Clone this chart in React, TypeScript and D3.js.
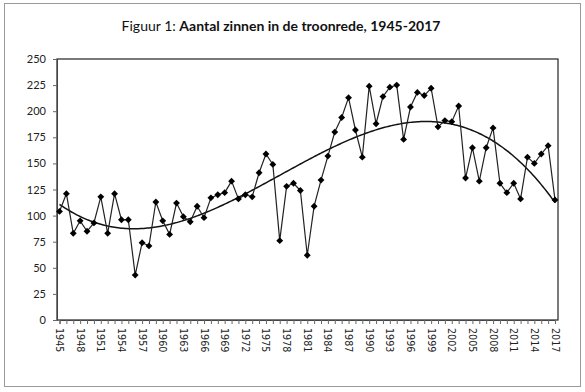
import React, { useEffect, useRef } from "react";
import * as d3 from "d3";

const years: number[] = d3.range(1945, 2018);

const sentences: number[] = [
  104, 121, 83, 95, 85, 93, 118, 83, 121, 96,
  96, 43, 74, 71, 113, 95, 82, 112, 99, 94,
  109, 98, 117, 120, 122, 133, 116, 120, 118, 141,
  159, 149, 76, 128, 131, 124, 62, 109, 134, 157,
  180, 194, 213, 182, 156, 224, 188, 214, 223, 225,
  173, 204, 218, 215, 222, 185, 191, 190, 205, 136,
  165, 133, 165, 184, 131, 122, 131, 116, 156, 150,
  159, 167, 115,
];

const yTicks: number[] = [0, 25, 50, 75, 100, 125, 150, 175, 200, 225, 250];
const labelYears: number[] = d3.range(1945, 2018, 3);

const W = 585;
const H = 392;
const margin = { left: 57, right: 27, top: 59, bottom: 72 };

// least squares polynomial (Excel style trendline)
function polyFit(xs: number[], ys: number[], order: number) {
  const n = order + 1;
  const A: number[][] = [];
  for (let r = 0; r < n; r++) {
    const row: number[] = [];
    for (let c = 0; c < n; c++) row.push(d3.sum(xs, x => Math.pow(x, r + c)));
    row.push(d3.sum(xs, (x, i) => ys[i] * Math.pow(x, r)));
    A.push(row);
  }
  for (let i = 0; i < n; i++) {
    let p = i;
    for (let k = i + 1; k < n; k++) if (Math.abs(A[k][i]) > Math.abs(A[p][i])) p = k;
    [A[i], A[p]] = [A[p], A[i]];
    for (let k = i + 1; k < n; k++) {
      const f = A[k][i] / A[i][i];
      for (let c = i; c <= n; c++) A[k][c] -= f * A[i][c];
    }
  }
  const coef = new Array(n).fill(0);
  for (let i = n - 1; i >= 0; i--) {
    let s = A[i][n];
    for (let c = i + 1; c < n; c++) s -= A[i][c] * coef[c];
    coef[i] = s / A[i][i];
  }
  return (x: number) => coef.reduce((acc, b, i) => acc + b * Math.pow(x, i), 0);
}

const App = () => {
  const ref = useRef<SVGSVGElement>(null);

  useEffect(() => {
    const svg = d3.select(ref.current);
    svg.selectAll("*").remove();

    const x0 = margin.left, x1 = W - margin.right;
    const y0 = H - margin.bottom, y1 = margin.top;

    const x = d3.scaleLinear().domain([1945, 2017]).range([x0 + 2.5, x1 - 3]);
    const y = d3.scaleLinear().domain([0, 250]).range([y0, y1]);

    // outer frame
    svg.append("rect")
      .attr("x", 4.5).attr("y", 3.5)
      .attr("width", 576).attr("height", 383)
      .attr("fill", "white").attr("stroke", "#9a9a9a");

    // title
    const title = svg.append("text")
      .attr("x", 281).attr("y", 31)
      .attr("text-anchor", "middle")
      .attr("font-family", "Lato, 'Open Sans', sans-serif")
      .attr("font-size", 14)
      .attr("fill", "#111");
    title.append("tspan").text("Figuur 1: ");
    title.append("tspan").attr("font-weight", "bold").text("Aantal zinnen in de troonrede, 1945-2017");

    // plot border
    svg.append("rect")
      .attr("x", x0).attr("y", y1)
      .attr("width", x1 - x0).attr("height", y0 - y1)
      .attr("fill", "none").attr("stroke", "#333").attr("stroke-width", 1.3);

    // y axis
    const yAxis = svg.append("g").attr("transform", `translate(${x0},0)`)
      .call(d3.axisLeft(y).tickValues(yTicks).tickSize(4).tickPadding(7));
    yAxis.select(".domain").attr("stroke", "#444");
    yAxis.selectAll(".tick line").attr("stroke", "#666");
    yAxis.selectAll("text")
      .attr("font-family", "Lato, sans-serif")
      .attr("font-size", 11)
      .attr("fill", "#222");

    // x axis
    const xAxis = svg.append("g").attr("transform", `translate(0,${y0})`)
      .call(d3.axisBottom(x).tickValues(years).tickSize(4).tickFormat(() => ""));
    xAxis.select(".domain").attr("stroke", "#444");
    xAxis.selectAll(".tick line").attr("stroke", "#666");

    svg.append("g").selectAll("text")
      .data(labelYears)
      .join("text")
      .attr("transform", d => `translate(${x(d) - 3.5},${y0 + 8}) rotate(90)`)
      .attr("font-family", "'DejaVu Sans', sans-serif")
      .attr("font-size", 9.6)
      .attr("fill", "#222")
      .text(d => d);

    // trend line (polynomial, order 3)
    const t = (yr: number) => (yr - 1981) / 36;
    const fit = polyFit(years.map(t), sentences, 3);
    const trendPts = d3.range(1945, 2017.01, 0.25);
    svg.append("path")
      .datum(trendPts)
      .attr("fill", "none")
      .attr("stroke", "#111")
      .attr("stroke-width", 1.5)
      .attr("d", d3.line<number>().x(d => x(d)).y(d => y(fit(t(d))))(trendPts));

    // data line
    const line = d3.line<number>().x((d, i) => x(years[i])).y(d => y(d));
    svg.append("path")
      .attr("fill", "none")
      .attr("stroke", "#222")
      .attr("stroke-width", 1.2)
      .attr("d", line(sentences));

    // diamond markers
    const diamond = d3.symbol().type(d3.symbolDiamond2).size(30);
    svg.append("g").selectAll("path")
      .data(sentences)
      .join("path")
      .attr("transform", (d, i) => `translate(${x(years[i])},${y(d)})`)
      .attr("d", diamond)
      .attr("fill", "#000");
  }, []);

  return (
    <svg
      ref={ref}
      width={W}
      height={H}
      style={{ position: "absolute", left: 0, top: 0, background: "white" }}
    />
  );
};

export default App;
